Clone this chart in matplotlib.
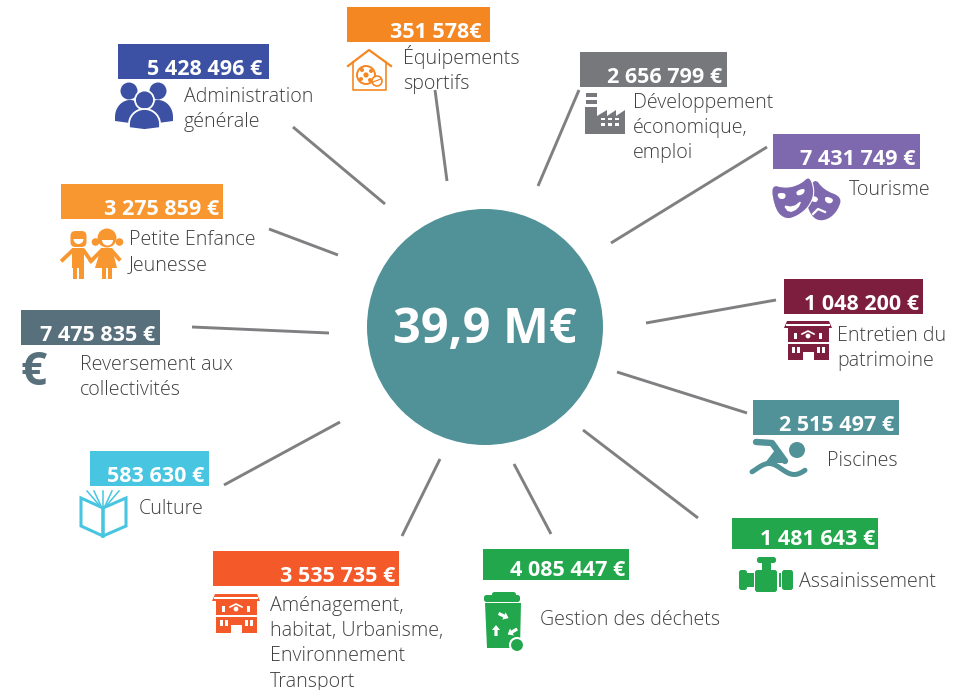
import matplotlib
matplotlib.use("Agg")
import matplotlib.pyplot as plt
import matplotlib.patches as patches
import numpy as np

# data
total_label = "39,9 M€"
categories = [
    "Administration\ngénérale", "Petite Enfance\nJeunesse", "Équipements\nsportifs",
    "Développement\néconomique,\nemploi", "Tourisme", "Entretien du\npatrimoine",
    "Piscines", "Assainissement", "Gestion des déchets",
    "Aménagement,\nhabitat, Urbanisme,\nEnvironnement\nTransport", "Culture",
    "Reversement aux\ncollectivités",
]
amounts = [
    "5 428 496 €", "3 275 859 €", "351 578€", "2 656 799 €", "7 431 749 €", "1 048 200 €",
    "2 515 497 €", "1 481 643 €", "4 085 447 €", "3 535 735 €", "583 630 €", "7 475 835 €",
]

# colours
colors = ["#3c51a3", "#f89630", "#f58723", "#77787b", "#7f69ae", "#7e1e3e",
          "#519298", "#23a74c", "#23a74c", "#f4592a", "#48c5e0", "#586f7c"]
circle_color = "#519298"
line_color = "#808083"
text_color = "#404040"

# layout, in picture pixels
boxes = [(118, 44, 269, 79), (61, 184, 223, 219), (347, 7, 490, 42), (580, 52, 727, 87),
         (773, 134, 920, 169), (784, 279, 923, 314), (753, 400, 899, 435), (732, 518, 878, 549),
         (483, 549, 629, 580), (213, 551, 399, 586), (90, 451, 209, 486), (21, 310, 160, 345)]
amount_right = [262, 219, 481, 722, 915, 919, 894, 875, 625, 395, 204, 155]
label_x = [184, 129, 403, 633, 849, 837, 827, 799, 540, 270, 139, 80]
label_y = [102, 245, 64, 108, 195, 341, 466, 587, 625, 611, 514, 370]
spokes = [(293, 127, 385, 204), (269, 229, 338, 255), (435, 90, 447, 181), (579, 90, 538, 186),
          (767, 147, 611, 243), (776, 300, 646, 323), (747, 413, 617, 372), (698, 518, 583, 430),
          (551, 534, 514, 464), (402, 536, 440, 459), (224, 485, 340, 422), (192, 327, 329, 333)]

plt.rcParams['font.family'] = ['Open Sans', 'DejaVu Sans']

fig = plt.figure(figsize=(9.71, 6.9), dpi=100)
ax = fig.add_axes([0, 0, 1, 1])
ax.set_xlim(0, 971)
ax.set_ylim(690, 0)
ax.axis("off")


def smooth(pts, rounds=3):
    # corner cutting, so that hand placed outlines look drawn
    pts = np.array(pts, dtype=float)
    for _ in range(rounds):
        nxt = np.roll(pts, -1, axis=0)
        pts = np.column_stack([0.75 * pts + 0.25 * nxt, 0.25 * pts + 0.75 * nxt]).reshape(-1, 2)
    return pts


def poly(pts, c, **kw):
    ax.add_patch(patches.Polygon(pts, closed=True, facecolor=c, edgecolor=kw.pop("ec", "none"), **kw))


def outline(pts, c, lw=1.5, closed=False):
    ax.add_patch(patches.Polygon(pts, closed=closed, fill=False, edgecolor=c, linewidth=lw))


def disc(x, y, r, c, **kw):
    ax.add_patch(patches.Circle((x, y), r, facecolor=c, edgecolor=kw.pop("ec", "none"), **kw))


def rect(x0, y0, x1, y1, c):
    ax.add_patch(patches.Rectangle((x0, y0), x1 - x0, y1 - y0, facecolor=c, edgecolor="none"))


def rrect(x0, y0, x1, y1, r, c):
    ax.add_patch(patches.FancyBboxPatch((x0 + r, y0 + r), x1 - x0 - 2 * r, y1 - y0 - 2 * r,
                                        boxstyle=f"round,pad={r}", facecolor=c, edgecolor="none"))


def dome(x0, x1, top, bottom):
    t = np.linspace(np.pi, 2 * np.pi, 30)
    cx, rx = (x0 + x1) / 2, (x1 - x0) / 2
    arc = np.column_stack([cx + rx * np.cos(t), bottom - 6 + (bottom - 6 - top) * np.sin(t)])
    sag = [(x1, bottom - 2), (cx, bottom), (x0, bottom - 2)]
    return np.vstack([arc, sag])


def icon_people(c):
    disc(129, 91, 8.5, c)
    disc(158, 91, 8.5, c)
    poly(dome(115, 145, 100, 123), c)
    poly(dome(143, 173, 100, 123), c)
    disc(144.5, 100, 9.5, c, ec="white", linewidth=1.3)
    poly(dome(129, 160, 109, 130), c, ec="white", linewidth=1.3)


def icon_kids(c):
    # boy
    rrect(70.5, 231, 86.5, 247, 5, c)
    ax.add_patch(patches.Wedge((78.5, 239), 5, 0, 180, facecolor="white", edgecolor="none"))
    rect(72, 248, 84, 268, c)
    rect(72.5, 268, 77, 279, c)
    rect(79, 268, 83.5, 279, c)
    ax.plot([72, 62.5], [251, 260], color=c, lw=2.8)
    ax.plot([84, 91], [251, 261], color=c, lw=2.8)
    # girl
    disc(107, 238, 9.5, c)
    disc(95.5, 242, 3.8, c)
    disc(119.5, 242, 3.8, c)
    ax.add_patch(patches.Wedge((107.5, 240), 5.5, 0, 180, facecolor="white", edgecolor="none"))
    poly([(101, 248), (112, 248), (117, 268), (95, 268)], c)
    rect(101.5, 268, 105.5, 279, c)
    rect(107.5, 268, 111.5, 279, c)
    ax.plot([101, 91], [251, 261], color=c, lw=2.8)
    ax.plot([112, 119], [251, 259], color=c, lw=2.8)


def icon_house(c):
    ax.plot([348, 369, 391], [66, 50, 66], color=c, lw=1.6)
    ax.plot([353, 353, 386, 386], [62, 90, 90, 62], color=c, lw=1.2)
    disc(366, 75, 9, "white", ec=c, linewidth=1.4)
    for dx, dy, r in [(0, 0, 2.6), (-4, -5, 2), (5, -4, 2), (-5, 4, 2), (4, 5, 2)]:
        disc(366 + dx, 75 + dy, r, c)
    disc(377, 81, 5, "white", ec=c, linewidth=1.2)
    ax.plot([373, 381], [82, 79], color=c, lw=0.9)


def icon_factory(c):
    rect(586, 93, 597, 97, c)
    rect(586, 100, 597, 104, c)
    rect(585, 107, 597, 134, c)
    poly([(597, 134), (597, 116), (607, 110), (607, 116), (616, 110), (616, 116), (625, 110),
          (625, 134)], c)
    for yy in (117.5, 123):
        for xx in (601, 608, 615):
            rect(xx, yy, xx + 4, yy + 2.5, "white")


def icon_masks(c):
    # right mask, behind
    poly(smooth([(814, 177), (824, 190), (842, 197), (838, 210), (829, 219), (818, 221), (810, 214),
                 (806, 200)], 2), c)
    poly(smooth([(825, 196), (834, 199), (831, 204), (825, 202)], 2), "white")
    poly(smooth([(811, 195), (819, 198), (816, 203), (810, 200)], 2), "white")
    ax.plot([813, 818, 825], [214, 209, 212], color="white", lw=1.6)
    # left mask
    poly(smooth([(770, 184), (786, 188), (800, 184), (810, 175), (815, 193), (809, 207), (798, 216),
                 (786, 220), (775, 211)], 2), c, ec="white", linewidth=0.8)
    poly(smooth([(777, 193), (786, 193), (785, 199), (779, 199)], 2), "white")
    poly(smooth([(796, 191), (805, 188), (804, 194), (797, 196)], 2), "white")
    poly(smooth([(783, 205), (793, 207), (802, 200), (798, 209), (789, 213)], 1), "white")


def icon_building(x0, y0, c):
    # 46 wide, 40 high
    poly([(x0 + 2, y0), (x0 + 44, y0), (x0 + 47, y0 + 7), (x0 - 1, y0 + 7)], c)
    rect(x0 + 1, y0 + 3, x0 + 45, y0 + 4.5, "white")
    rect(x0 + 3, y0 + 7, x0 + 44, y0 + 39, c)
    rect(x0 + 9, y0 + 12, x0 + 12, y0 + 18, "white")
    rect(x0 + 34, y0 + 12, x0 + 37, y0 + 18, "white")
    disc(x0 + 23, y0 + 15, 2.4, "white")
    ax.plot([x0 + 17, x0 + 23, x0 + 29], [y0 + 13, y0 + 10, y0 + 13], color="white", lw=1.2)
    rect(x0 + 3, y0 + 21, x0 + 44, y0 + 23, "white")
    rect(x0 + 18, y0 + 31, x0 + 29, y0 + 39, "white")
    for xx in (7, 12, 32, 37):
        rect(x0 + xx, y0 + 26, x0 + xx + 3, y0 + 32, "white")


def icon_swimmer(c):
    disc(797, 450, 8, c)
    ax.plot([756, 772, 785], [442, 443, 461], color=c, lw=4.6, solid_capstyle="round")
    poly([(775, 450), (785, 463), (765, 463)], c)
    t = np.linspace(0, 1, 30)
    wx = 752 + 53 * t
    wy = 469 + 5.5 * np.sin(t * 2 * np.pi * 1.05 + 2.6)
    ax.plot(wx, wy, color=c, lw=3.6, solid_capstyle="round")


def icon_valve(c):
    rrect(757, 557, 776, 563, 2.5, c)
    rect(762, 563, 771, 571, c)
    rrect(755, 570, 777, 592, 2.5, c)
    rrect(739, 570, 747, 590, 2.5, c)
    rect(747, 573, 753.5, 587, c)
    rect(778.5, 573, 781, 587, c)
    rrect(782, 570, 793, 590, 2.5, c)


def arrow_mark(cx, cy, ang):
    a = np.radians(ang)
    ux, uy = np.cos(a), np.sin(a)
    vx, vy = -uy, ux
    pts = [(-6, -1.6), (0, -1.6), (0, -4), (5, 0), (0, 4), (0, 1.6), (-6, 1.6)]
    poly([(cx + p * ux + q * vx, cy + p * uy + q * vy) for p, q in pts], "white")


def icon_bin(c):
    rrect(492, 592, 516, 598, 2.5, c)
    rrect(484, 595, 520, 602, 2.5, c)
    poly([(485, 603), (521, 603), (520, 648), (487, 648)], c)
    arrow_mark(504, 616, 25)
    arrow_mark(512, 632, 150)
    arrow_mark(496, 630, 270)
    disc(517, 645, 7, c, ec="white", linewidth=1.5)


def icon_book(c):
    outline([(81, 498), (103, 508), (103, 536), (81, 526)], c, lw=2.2, closed=True)
    outline([(126, 498), (103, 508), (103, 536), (126, 526)], c, lw=2.2, closed=True)
    for x_top, x_bottom in [(87, 100), (94, 101), (103, 103), (112, 105), (119, 106)]:
        ax.plot([x_top, x_bottom], [491, 506], color=c, lw=1.1)


icons = [
    icon_people, icon_kids, icon_house, icon_factory, icon_masks,
    lambda c: icon_building(785, 321, c), icon_swimmer, icon_valve, icon_bin,
    lambda c: icon_building(213, 594, c), icon_book,
    lambda c: ax.text(34, 385, "€", color=c, fontsize=33, fontweight="bold", ha="center", va="baseline"),
]

disc(485, 327, 118, circle_color)
ax.text(485, 343, total_label, color="white", fontsize=35, fontweight="bold", ha="center", va="baseline")

for i, (name, amount) in enumerate(zip(categories, amounts)):
    x0, y0, x1, y1 = boxes[i]
    rect(x0, y0, x1, y1, colors[i])
    ax.text(amount_right[i], y1 - 4, amount, color="white", fontsize=15.5, fontweight="bold",
            ha="right", va="baseline")
    for k, row in enumerate(name.split("\n")):
        ax.text(label_x[i], label_y[i] + k * 25.2, row, color=text_color, fontsize=14.1,
                fontweight="light", ha="left", va="baseline")
    sx0, sy0, sx1, sy1 = spokes[i]
    ax.plot([sx0, sx1], [sy0, sy1], color=line_color, lw=2.1, solid_capstyle="butt")
    icons[i](colors[i])

fig.savefig("out.png", dpi=100, facecolor="white")
